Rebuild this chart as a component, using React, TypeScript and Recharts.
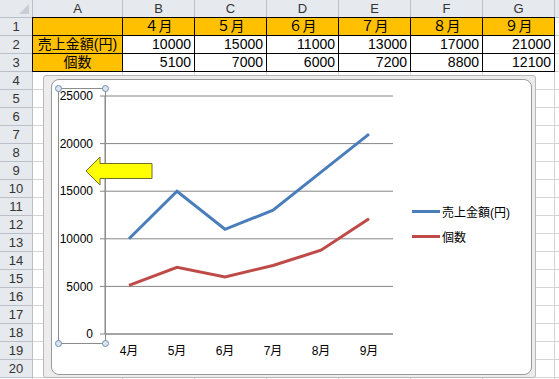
import React from 'react';
import { LineChart, Line, XAxis, YAxis, CartesianGrid, Legend } from 'recharts';

// chart data
const months = ['4月', '5月', '6月', '7月', '8月', '9月'];
const sales = [10000, 15000, 11000, 13000, 17000, 21000];
const counts = [5100, 7000, 6000, 7200, 8800, 12100];
const yTicks = [0, 5000, 10000, 15000, 20000, 25000];
const seriesNames = ['売上金額(円)', '個数'];

// sheet contents
const sheetMonths = ['４月', '５月', '６月', '７月', '８月', '９月'];
const colLetters = ['A', 'B', 'C', 'D', 'E', 'F', 'G', ''];
const rowCount = 20;

const data = months.map((m, i) => ({ month: m, sales: sales[i], count: counts[i] }));

const colEdges = [0, 33, 123, 195, 267, 339, 411, 483, 555, 627];
const ROW_H = 18;
const FONT = "'Liberation Sans', 'Noto Sans CJK JP', sans-serif";
const GRID = '#d4d4d4';
const HEAD_BG = '#e6e9ee';
const HEAD_LINE = '#b9c0c9';
const ORANGE = '#ffc000';

const rowTop = (r: number) => ROW_H + (r - 1) * ROW_H;

function Sheet() {
  const cells: React.ReactNode[] = [];

  // gridlines
  for (let c = 1; c < colEdges.length; c++) {
    cells.push(
      <div key={`v${c}`} style={{ position: 'absolute', left: colEdges[c] - 1, top: 0, width: 1, height: 379, background: GRID }} />
    );
  }
  for (let r = 1; r <= rowCount + 1; r++) {
    cells.push(
      <div key={`h${r}`} style={{ position: 'absolute', left: 0, top: rowTop(r) - 1, width: 559, height: 1, background: GRID }} />
    );
  }

  // column headers
  cells.push(
    <div key="corner" style={{ position: 'absolute', left: 0, top: 0, width: 33, height: ROW_H, background: HEAD_BG, borderRight: `1px solid ${HEAD_LINE}`, borderBottom: `1px solid ${HEAD_LINE}`, boxSizing: 'border-box' }}>
      <div style={{ position: 'absolute', right: 3, bottom: 3, width: 0, height: 0, borderLeft: '10px solid transparent', borderBottom: '10px solid #c9ced6' }} />
    </div>
  );
  colLetters.forEach((l, i) => {
    cells.push(
      <div key={`c${i}`} style={{ position: 'absolute', left: colEdges[i + 1], top: 0, width: colEdges[i + 2] - colEdges[i + 1], height: ROW_H, background: HEAD_BG, borderRight: `1px solid ${HEAD_LINE}`, borderBottom: `1px solid ${HEAD_LINE}`, boxSizing: 'border-box', textAlign: 'center', lineHeight: '17px', fontSize: 13, color: '#333' }}>
        {l}
      </div>
    );
  });
  // row headers
  for (let r = 1; r <= rowCount; r++) {
    cells.push(
      <div key={`r${r}`} style={{ position: 'absolute', left: 0, top: rowTop(r), width: 33, height: ROW_H, background: HEAD_BG, borderRight: `1px solid ${HEAD_LINE}`, borderBottom: `1px solid ${HEAD_LINE}`, boxSizing: 'border-box', textAlign: 'center', lineHeight: '17px', fontSize: 13, color: '#333' }}>
        {r}
      </div>
    );
  }

  // table A1:G3
  const cell = (c: number, r: number, text: string, bg: string, align: 'center' | 'right') => (
    <div key={`t${c}-${r}`} style={{ position: 'absolute', left: colEdges[c + 1] - 1, top: rowTop(r) - 1, width: colEdges[c + 2] - colEdges[c + 1] + 1, height: ROW_H + 1, background: bg, border: '1px solid #000', boxSizing: 'border-box', textAlign: align, paddingRight: align === 'right' ? 3 : 0, lineHeight: '16px', fontSize: 14, color: '#000', whiteSpace: 'nowrap' }}>
      {text}
    </div>
  );
  cells.push(cell(0, 1, '', ORANGE, 'center'));
  cells.push(cell(0, 2, seriesNames[0], ORANGE, 'center'));
  cells.push(cell(0, 3, seriesNames[1], ORANGE, 'center'));
  sheetMonths.forEach((m, i) => {
    cells.push(cell(i + 1, 1, m, ORANGE, 'center'));
    cells.push(cell(i + 1, 2, String(sales[i]), '#fff', 'right'));
    cells.push(cell(i + 1, 3, String(counts[i]), '#fff', 'right'));
  });

  return <>{cells}</>;
}

const renderLegend = (props: any) => {
  const items = [...(props.payload || [])].sort(
    (a: any, b: any) => seriesNames.indexOf(a.value) - seriesNames.indexOf(b.value)
  );
  return (
    <div style={{ fontFamily: FONT, fontSize: 12, color: '#000' }}>
      {items.map((p: any) => (
        <div key={p.value} style={{ display: 'flex', alignItems: 'center', height: 25 }}>
          <span style={{ display: 'inline-block', width: 28, height: 3, background: p.color, marginRight: 2 }} />
          <span>{p.value}</span>
        </div>
      ))}
    </div>
  );
};

export default function App() {
  return (
    <div style={{ position: 'absolute', left: 0, top: 0, width: 559, height: 379, overflow: 'hidden', background: '#fff', fontFamily: FONT }}>
      <Sheet />

      {/* chart frame */}
      <div style={{ position: 'absolute', left: 43, top: 75, width: 493, height: 303, background: '#ececec', border: '1px solid #b8b8b8', boxSizing: 'border-box', borderRadius: 3 }} />
      <div style={{ position: 'absolute', left: 51, top: 79, width: 481, height: 296, background: '#fff', border: '1px solid #9a9a9a', boxSizing: 'border-box', borderRadius: 8 }} />

      <div style={{ position: 'absolute', left: 52, top: 80 }}>
        <LineChart width={479} height={294} data={data} margin={{ top: 16, right: 138, bottom: 0, left: 0 }}>
          <CartesianGrid vertical={false} stroke="#868686" />
          <XAxis
            xAxisId="axisB"
            dataKey="month"
            padding={{ left: 24, right: 24 }}
            axisLine={false}
            tickLine={false}
            tickSize={6}
            tickMargin={0}
            height={34}
            tick={{ fill: '#000', fontSize: 12, fontFamily: FONT }}
          />
          <XAxis
            xAxisId="axisA"
            type="number"
            domain={[0, 6]}
            ticks={[0, 1, 2, 3, 4, 5, 6]}
            tick={false}
            tickSize={5}
            height={6}
            stroke="#868686"
            allowDataOverflow
          />
          <YAxis
            width={53}
            domain={[0, 25000]}
            ticks={yTicks}
            stroke="#868686"
            tickSize={5}
            tickMargin={7}
            tick={{ fill: '#000', fontSize: 12, fontFamily: FONT }}
          />
          <Legend
            layout="vertical"
            align="center"
            verticalAlign="middle"
            content={renderLegend}
            wrapperStyle={{ left: 360, top: 119, width: 119 }}
          />
          <Line xAxisId="axisB" dataKey="sales" name={seriesNames[0]} stroke="#4a7ebb" strokeWidth={3} dot={false} isAnimationActive={false} />
          <Line xAxisId="axisB" dataKey="count" name={seriesNames[1]} stroke="#be4b48" strokeWidth={3} dot={false} isAnimationActive={false} />
        </LineChart>
      </div>

      {/* selected axis frame and arrow shape */}
      <svg width={559} height={379} style={{ position: 'absolute', left: 0, top: 0, pointerEvents: 'none' }}>
        <rect x={58.5} y={88.5} width={47} height={255} fill="none" stroke="#8c8c8c" />
        {[[58.5, 88.5], [105.5, 88.5], [58.5, 343.5], [105.5, 343.5]].map(([cx, cy], i) => (
          <circle key={i} cx={cx} cy={cy} r={3} fill="#dbe5f1" stroke="#6f8db0" />
        ))}
        <polygon
          points="86,171 100,157 100,163.5 152,163.5 152,178.5 100,178.5 100,185"
          fill="#ffff00"
          stroke="#6e6e2e"
        />
      </svg>
    </div>
  );
}
